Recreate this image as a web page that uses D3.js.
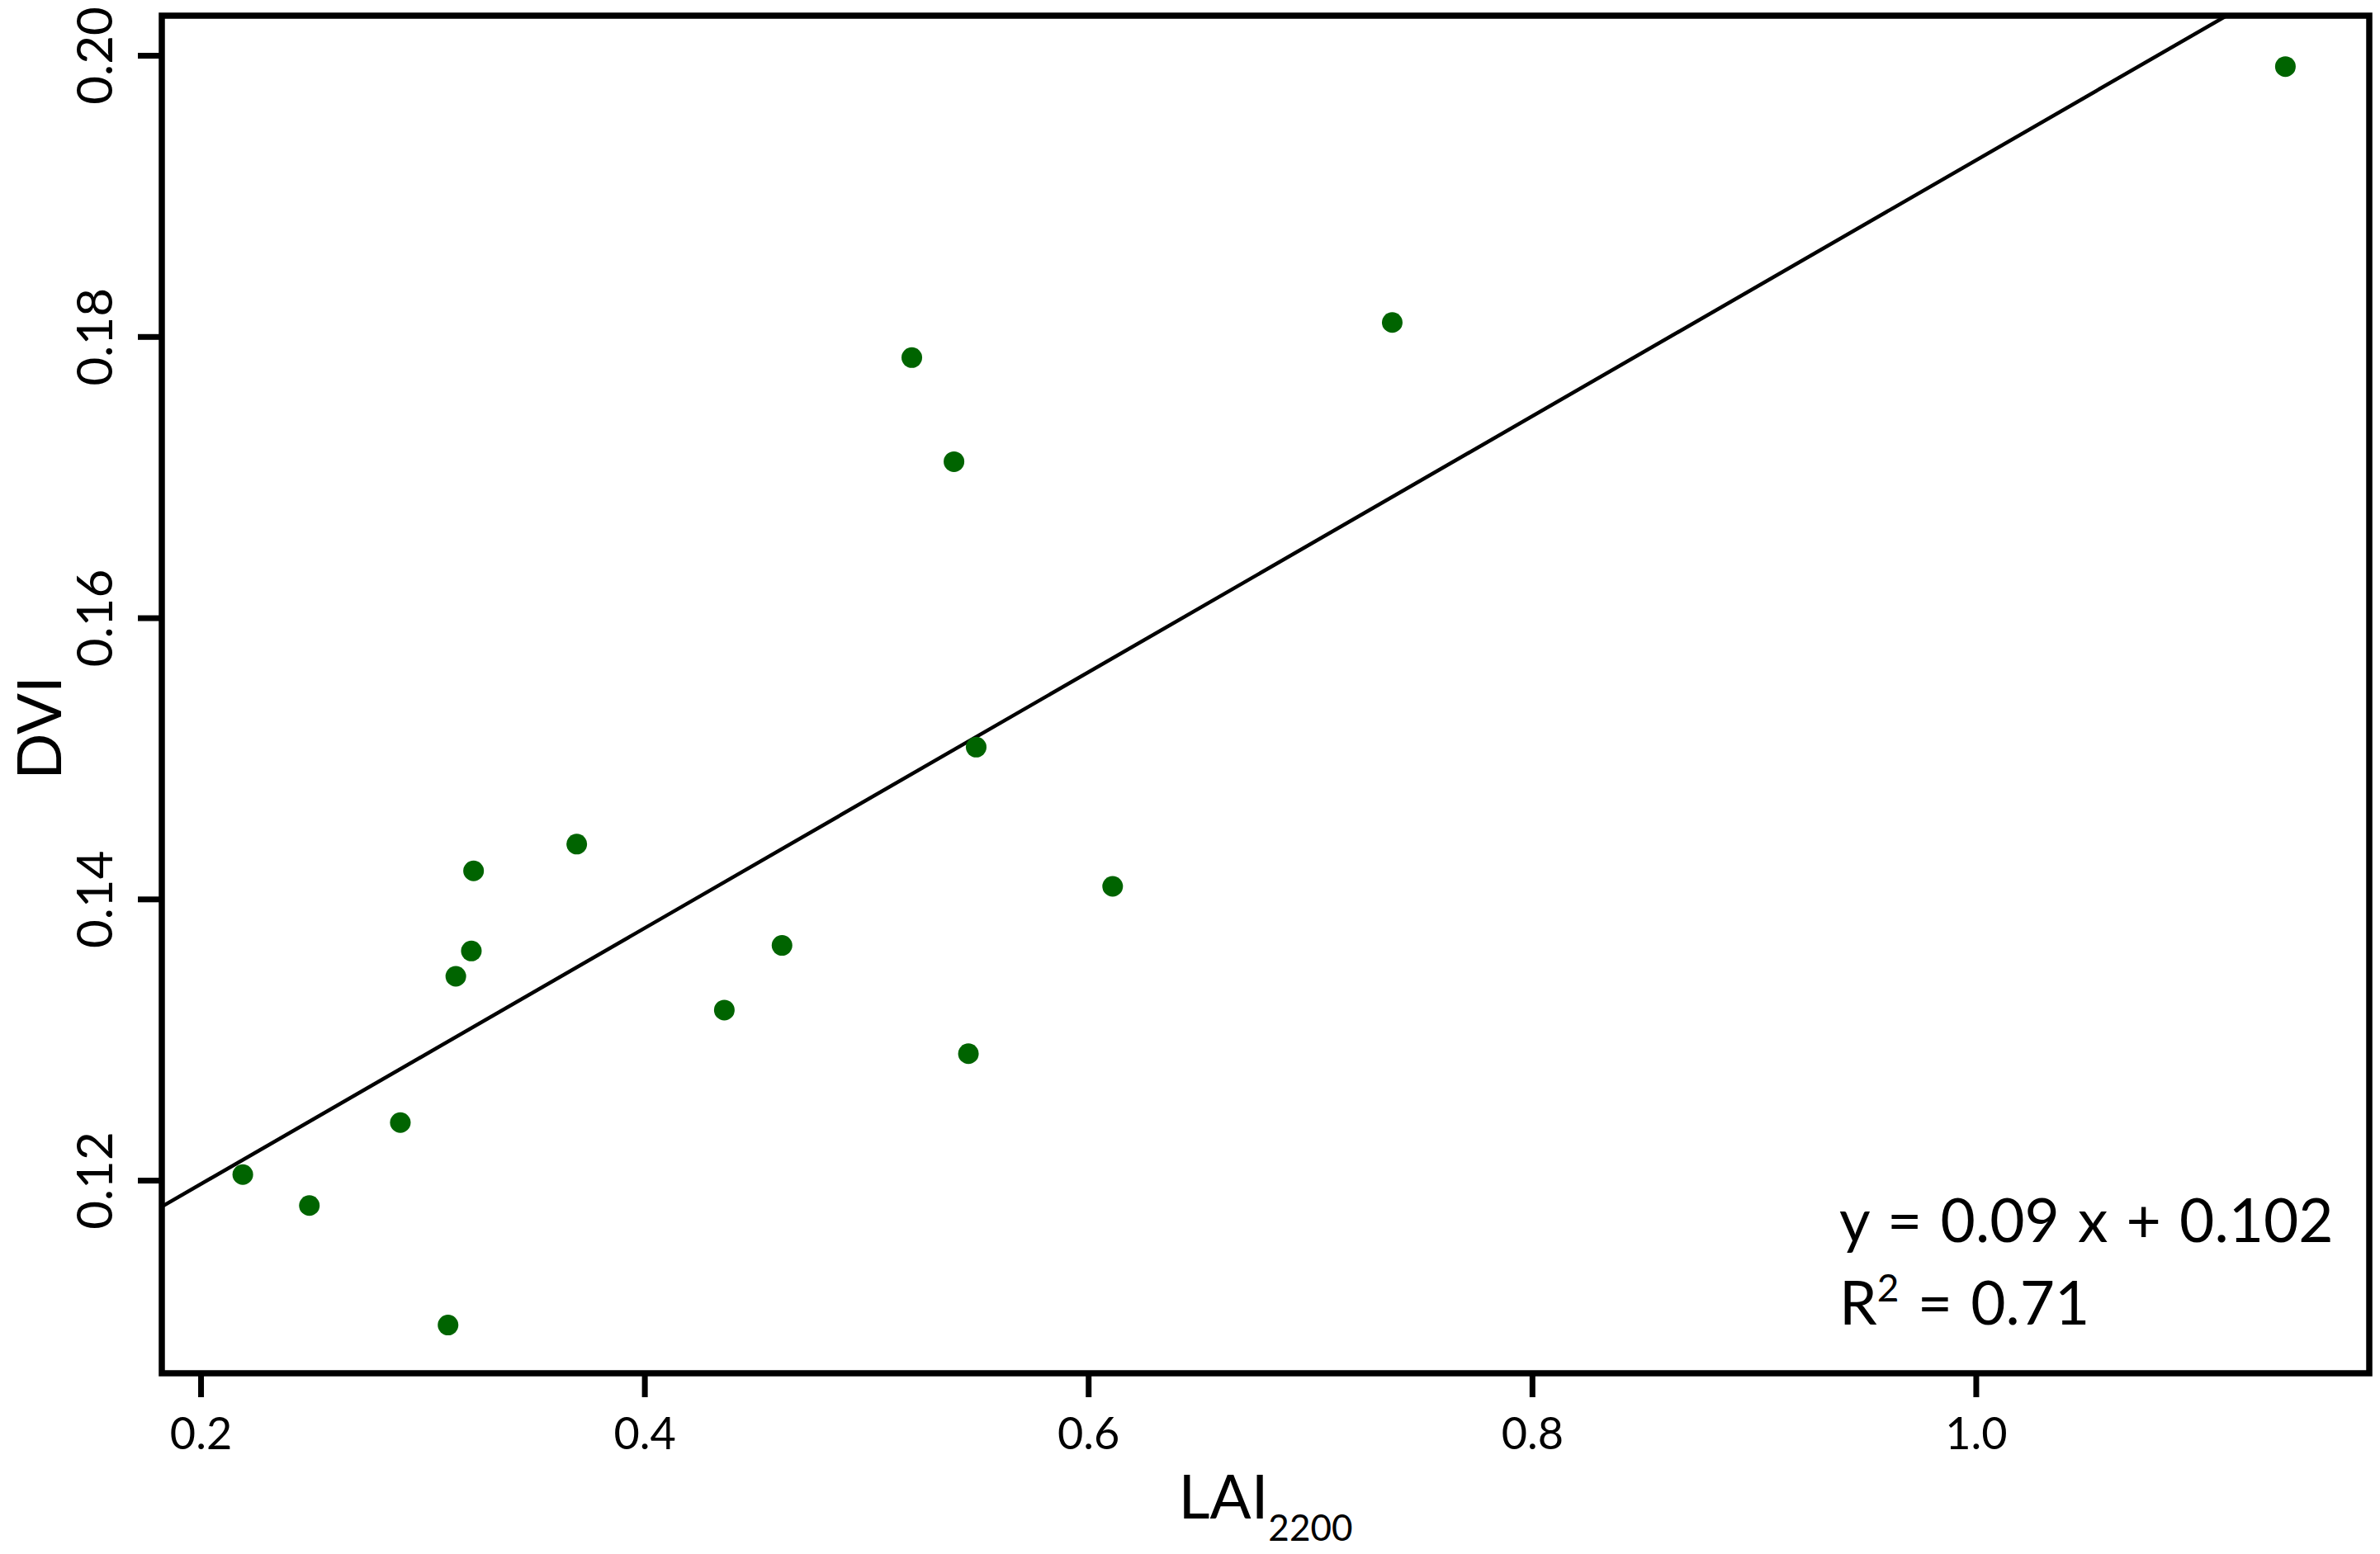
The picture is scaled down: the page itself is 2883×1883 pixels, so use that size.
<!DOCTYPE html>
<html>
<head>
<meta charset="utf-8">
<script src="https://cdn.jsdelivr.net/npm/d3@7"></script>
<style>
  html, body { margin: 0; padding: 0; background: #fff; }
  svg { display: block; }
  text { font-family: Lato, "Open Sans", sans-serif; fill: #000; }
</style>
</head>
<body>
<svg id="chart" width="2883" height="1883"></svg>
<script>
// ---- data ----
const lai = [0.219, 0.249, 0.290, 0.3115, 0.315, 0.322, 0.323, 0.3695, 0.436, 0.462, 0.5205, 0.5395, 0.546, 0.5495, 0.611, 0.737, 1.1395];
const dvi = [0.1204, 0.1182, 0.1241, 0.1097, 0.1345, 0.1363, 0.1420, 0.1439, 0.1321, 0.1367, 0.1785, 0.1711, 0.1290, 0.1508, 0.1409, 0.1810, 0.1992];
const xTicks = [0.2, 0.4, 0.6, 0.8, 1.0];
const yTicks = [0.12, 0.14, 0.16, 0.18, 0.20];
const xDomain = [0.1825, 1.1773];
const yDomain = [0.10627, 0.20282];
const equationText = "y = 0.09 x + 0.102";
const r2Prefix = "R", r2Sup = "2", r2Rest = " = 0.71";
const xLabel = "LAI", xLabelSub = "2200", yLabel = "DVI";

// ---- layout ----
const L = 196, T = 19, R = 2870, B = 1664;
const svg = d3.select("#chart");
const x = d3.scaleLinear().domain(xDomain).range([L, R]);
const y = d3.scaleLinear().domain(yDomain).range([B, T]);

// regression line fitted from the points, clipped to plot box
const mx = d3.mean(lai), my = d3.mean(dvi);
let sxy = 0, sxx = 0;
lai.forEach((v, i) => { sxy += (v - mx) * (dvi[i] - my); sxx += (v - mx) * (v - mx); });
const slope = sxy / sxx, intercept = my - slope * mx;

svg.append("defs").append("clipPath").attr("id", "clip")
  .append("rect").attr("x", L).attr("y", T).attr("width", R - L).attr("height", B - T);

svg.append("line")
  .attr("clip-path", "url(#clip)")
  .attr("x1", x(xDomain[0])).attr("y1", y(slope * xDomain[0] + intercept))
  .attr("x2", x(xDomain[1])).attr("y2", y(slope * xDomain[1] + intercept))
  .attr("stroke", "#000").attr("stroke-width", 4.5);

// points
svg.append("g").selectAll("circle").data(lai).join("circle")
  .attr("cx", d => x(d)).attr("cy", (d, i) => y(dvi[i]))
  .attr("r", 12.5).attr("fill", "#006400");

// box
svg.append("rect").attr("x", L).attr("y", T).attr("width", R - L).attr("height", B - T)
  .attr("fill", "none").attr("stroke", "#000").attr("stroke-width", 7.5);

// x axis
const gx = svg.append("g").attr("transform", `translate(0,${B})`)
  .call(d3.axisBottom(x).tickValues(xTicks).tickFormat(d3.format(".1f")).tickSize(29).tickSizeOuter(0));
gx.select(".domain").remove();
gx.selectAll(".tick line").attr("stroke", "#000").attr("stroke-width", 7);
gx.selectAll(".tick text").attr("y", 92).attr("dy", null)
  .style("font-size", "54px").style("font-family", "Lato, sans-serif").attr("fill", "#000");

// y axis
const gy = svg.append("g").attr("transform", `translate(${L},0)`)
  .call(d3.axisLeft(y).tickValues(yTicks).tickFormat(d3.format(".2f")).tickSize(29).tickSizeOuter(0));
gy.select(".domain").remove();
gy.selectAll(".tick line").attr("stroke", "#000").attr("stroke-width", 7);
gy.selectAll(".tick text").attr("x", null).attr("dy", null)
  .attr("transform", `translate(${136 - L},0) rotate(-90)`)
  .attr("text-anchor", "middle")
  .style("font-size", "60px").style("font-family", "Lato, sans-serif").attr("fill", "#000");

// axis titles
const xt = svg.append("text").attr("x", (L + R) / 2).attr("y", 1840)
  .attr("text-anchor", "middle").style("font-size", "74px");
xt.append("tspan").text(xLabel);
xt.append("tspan").attr("dy", 27).style("font-size", "44px").text(xLabelSub);

svg.append("text").attr("transform", `translate(74,882) rotate(-90)`)
  .attr("text-anchor", "middle").style("font-size", "74px").text(yLabel);

// equation annotation
svg.append("text").attr("x", 2228).attr("y", 1505)
  .style("font-size", "73px").style("word-spacing", "3.5px").text(equationText);
const r2 = svg.append("text").attr("x", 2228).attr("y", 1605)
  .style("font-size", "73px").style("word-spacing", "3.5px");
r2.append("tspan").text(r2Prefix);
r2.append("tspan").attr("dy", -28).style("font-size", "46px").text(r2Sup);
r2.append("tspan").attr("dy", 28).text(r2Rest);
</script>
</body>
</html>
